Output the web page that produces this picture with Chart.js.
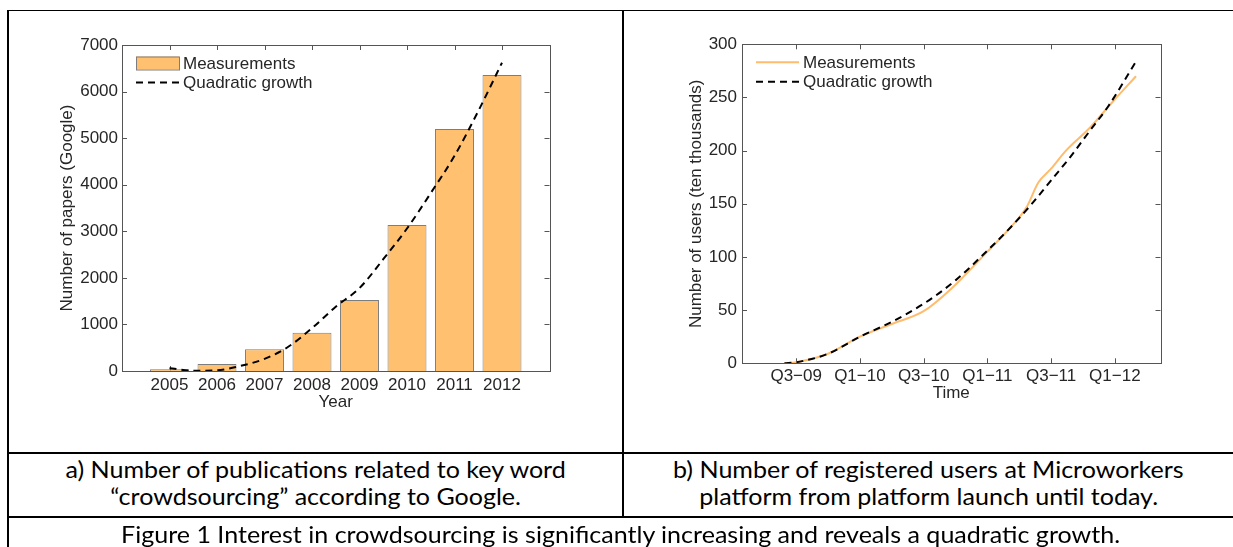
<!DOCTYPE html>
<html><head><meta charset="utf-8">
<script src="https://cdn.jsdelivr.net/npm/chart.js@4.4.0/dist/chart.umd.min.js"></script>
<style>
html,body{margin:0;padding:0;background:#fff;}
body{width:1233px;height:547px;position:relative;overflow:hidden;}
.ln{position:absolute;background:#000;}
canvas{position:absolute;top:0;}
.cap{position:absolute;text-align:center;font-family:Lato,'Open Sans',sans-serif;font-size:23px;line-height:27px;white-space:nowrap;color:#000;}
.cap span{display:inline-block;transform-origin:50% 50%;}
</style></head><body>
<canvas id="chartA" width="620" height="450" style="left:0px"></canvas>
<canvas id="chartB" width="611" height="450" style="left:622px"></canvas>
<div class="ln" style="left:8px;top:10px;width:1225px;height:1px"></div>
<div class="ln" style="left:7px;top:10px;width:2px;height:537px"></div>
<div class="ln" style="left:622px;top:10px;width:2px;height:507px"></div>
<div class="ln" style="left:7px;top:452px;width:1226px;height:2px"></div>
<div class="ln" style="left:7px;top:516px;width:1226px;height:2px"></div>
<div class="cap" style="left:9px;width:613px;top:456px"><span>a) Number of publications related to key word</span></div>
<div class="cap" style="left:9px;width:613px;top:483px"><span>“crowdsourcing” according to Google.</span></div>
<div class="cap" style="left:624px;width:609px;top:456px"><span>b) Number of registered users at Microworkers</span></div>
<div class="cap" style="left:624px;width:609px;top:483px"><span>platform from platform launch until today.</span></div>
<div class="cap" style="left:9px;width:1224px;top:521px"><span>Figure 1 Interest in crowdsourcing is significantly increasing and reveals a quadratic growth.</span></div>
<script>
// ---- Data: chart a ----
const years = [2005, 2006, 2007, 2008, 2009, 2010, 2011, 2012];
const papers = [35, 150, 466, 823, 1525, 3135, 5197, 6356];
const fitYears = [2005, 2005.5, 2006, 2006.5, 2007, 2007.5, 2008, 2008.5, 2009, 2009.5, 2010, 2010.5, 2011, 2011.5, 2012];
const fitPapers = [60, 5, 15, 110, 260, 520, 920, 1380, 1780, 2400, 3060, 3820, 4620, 5580, 6620];
const paperTicks = [0, 1000, 2000, 3000, 4000, 5000, 6000, 7000];

// ---- Data: chart b (x = months after Q3-09) ----
const userMonths = [-1.1, 0, 3, 6, 9, 12, 14.8, 15.8, 18, 20.2, 21.7, 22.8, 24, 25.4, 27.6, 29.8, 32];
const users = [0, 1, 9, 25, 37, 49, 72, 82, 105, 128, 147, 170, 183, 200, 221, 246, 270];
const fitMonths = [-1.1, 0, 3, 6, 9, 12, 15, 18, 20.2, 22.1, 24, 25.8, 27.6, 29.4, 32];
const fitUsers = [0, 1, 9, 25, 39, 56, 78, 106, 128, 149, 172, 194, 218, 242, 284];
const timeTickPos = [0, 6, 12, 18, 24, 30];
const timeTickLabels = ['Q3\u221209', 'Q1\u221210', 'Q3\u221210', 'Q1\u221211', 'Q3\u221211', 'Q1\u221212'];
const userTicks = [0, 50, 100, 150, 200, 250, 300];

const FONT = 'Liberation Sans, Arial, Helvetica, sans-serif';
const FS = 17;
const TXT = '#262626';
const ORANGE = 'rgb(255,192,112)';
const ORANGE_LINE = 'rgb(255,188,108)';

const matlabAxes = {
  id: 'matlabAxes',
  beforeDatasetsDraw(chart) {
    const {ctx, chartArea: a, scales} = chart;
    ctx.save();
    ctx.strokeStyle = '#555';
    ctx.lineWidth = 1;
    ctx.beginPath();
    scales.x.ticks.forEach(t => {
      const px = Math.round(scales.x.getPixelForValue(t.value)) + 0.5;
      ctx.moveTo(px, a.bottom); ctx.lineTo(px, a.bottom - 5);
      ctx.moveTo(px, a.top); ctx.lineTo(px, a.top + 5);
    });
    scales.y.ticks.forEach(t => {
      const py = Math.round(scales.y.getPixelForValue(t.value)) + 0.5;
      ctx.moveTo(a.left, py); ctx.lineTo(a.left + 5, py);
      ctx.moveTo(a.right, py); ctx.lineTo(a.right - 5, py);
    });
    ctx.stroke();
    ctx.restore();
  },
  afterDatasetsDraw(chart) {
    const {ctx, chartArea: a} = chart;
    ctx.save();
    ctx.strokeStyle = '#555';
    ctx.lineWidth = 1;
    ctx.strokeRect(Math.round(a.left) + 0.5, Math.round(a.top) + 0.5,
                   Math.round(a.right - a.left), Math.round(a.bottom - a.top));
    // legend inside the axes
    chart.data.datasets.forEach((ds, i) => {
      const cy = a.top + 18 + i * 19.5;
      const x0 = a.left + 14, x1 = a.left + 57;
      if (ds.type === 'bar') {
        ctx.fillStyle = ds.backgroundColor;
        ctx.fillRect(x0, cy - 6.5, x1 - x0, 13);
        ctx.strokeStyle = ds.borderColor;
        ctx.lineWidth = 1;
        ctx.strokeRect(x0 + 0.5, cy - 6, x1 - x0, 13);
      } else {
        ctx.strokeStyle = ds.borderColor;
        ctx.lineWidth = ds.borderWidth;
        ctx.setLineDash(ds.borderDash || []);
        ctx.beginPath();
        ctx.moveTo(x0, cy); ctx.lineTo(x1, cy);
        ctx.stroke();
        ctx.setLineDash([]);
      }
      ctx.fillStyle = TXT;
      ctx.font = FS + 'px ' + FONT;
      ctx.textBaseline = 'middle';
      ctx.textAlign = 'left';
      ctx.fillText(ds.label, a.left + 61, cy + 1);
    });
    ctx.restore();
  }
};

function axisCommon(extra) {
  return Object.assign({
    grid: {display: false, drawTicks: false},
    border: {display: false},
  }, extra);
}

new Chart(document.getElementById('chartA'), {
  type: 'bar',
  data: {
    datasets: [
      {
        type: 'bar', label: 'Measurements',
        data: years.map((y, i) => ({x: y, y: papers[i]})),
        backgroundColor: ORANGE, borderColor: '#7d7d7d', borderWidth: 1,
        categoryPercentage: 1, barPercentage: 0.82, order: 1
      },
      {
        type: 'line', label: 'Quadratic growth',
        data: fitYears.map((y, i) => ({x: y, y: fitPapers[i]})),
        borderColor: '#000', borderWidth: 2, borderDash: [7, 5],
        pointRadius: 0, fill: false, tension: 0.4, cubicInterpolationMode: 'monotone', order: 0
      }
    ]
  },
  options: {
    responsive: false, animation: false,
    layout: {padding: {left: 52.8, top: 45, right: 70.5, bottom: 33.8}},
    plugins: {legend: {display: false}, tooltip: {enabled: false}},
    scales: {
      x: axisCommon({
        type: 'linear', min: 2004, max: 2013, offset: false,
        afterBuildTicks: s => { s.ticks = years.map(v => ({value: v})); },
        afterFit: s => { s.height = 45.2; },
        ticks: {autoSkip: false, maxRotation: 0, padding: 4, color: TXT, font: {family: FONT, size: FS},
                callback: v => String(v)},
        title: {display: true, text: 'Year', color: TXT, font: {family: FONT, size: FS}, padding: {top: 4, bottom: 4}}
      }),
      y: axisCommon({
        min: 0, max: 7000,
        afterBuildTicks: s => { s.ticks = paperTicks.map(v => ({value: v})); },
        afterFit: s => { s.width = 69.2; },
        ticks: {padding: 4, color: TXT, font: {family: FONT, size: FS}, callback: v => String(v)},
        title: {display: true, text: 'Number of papers (Google)', color: TXT, font: {family: FONT, size: FS}, padding: {top: 4, bottom: 4}}
      })
    }
  },
  plugins: [matlabAxes]
});

new Chart(document.getElementById('chartB'), {
  type: 'line',
  data: {
    datasets: [
      {
        label: 'Measurements',
        data: userMonths.map((m, i) => ({x: m, y: users[i]})),
        borderColor: ORANGE_LINE, borderWidth: 2,
        pointRadius: 0, fill: false, tension: 0.3, cubicInterpolationMode: 'monotone', order: 1
      },
      {
        label: 'Quadratic growth',
        data: fitMonths.map((m, i) => ({x: m, y: fitUsers[i]})),
        borderColor: '#000', borderWidth: 2, borderDash: [7, 5],
        pointRadius: 0, fill: false, tension: 0.4, cubicInterpolationMode: 'monotone', order: 0
      }
    ]
  },
  options: {
    responsive: false, animation: false,
    layout: {padding: {left: 59.8, top: 44.3, right: 72.5, bottom: 42.5}},
    plugins: {legend: {display: false}, tooltip: {enabled: false}},
    scales: {
      x: axisCommon({
        type: 'linear', min: -5.1, max: 34.3,
        afterBuildTicks: s => { s.ticks = timeTickPos.map(v => ({value: v})); },
        afterFit: s => { s.height = 44.2; },
        ticks: {autoSkip: false, maxRotation: 0, padding: 3, color: TXT, font: {family: FONT, size: FS},
                callback: v => timeTickLabels[timeTickPos.indexOf(v)]},
        title: {display: true, text: 'Time', color: TXT, font: {family: FONT, size: FS}, padding: {top: 4, bottom: 4}}
      }),
      y: axisCommon({
        min: 0, max: 300,
        afterBuildTicks: s => { s.ticks = userTicks.map(v => ({value: v})); },
        afterFit: s => { s.width = 60.2; },
        ticks: {padding: 5, color: TXT, font: {family: FONT, size: FS}, callback: v => String(v)},
        title: {display: true, text: 'Number of users (ten thousands)', color: TXT, font: {family: FONT, size: FS}, padding: {top: 4, bottom: 4}}
      })
    }
  },
  plugins: [matlabAxes]
});

// fit caption width to the reference (Calibri-like proportions); offsetWidth ignores transforms
function fitCaptions() {
  const spans = document.querySelectorAll('.cap span');
  const k = 500 / spans[0].offsetWidth;
  spans.forEach(s => { s.style.transform = 'scaleX(' + k.toFixed(4) + ')'; });
}
fitCaptions();
if (document.fonts && document.fonts.ready) document.fonts.ready.then(fitCaptions);
</script>
</body></html>
